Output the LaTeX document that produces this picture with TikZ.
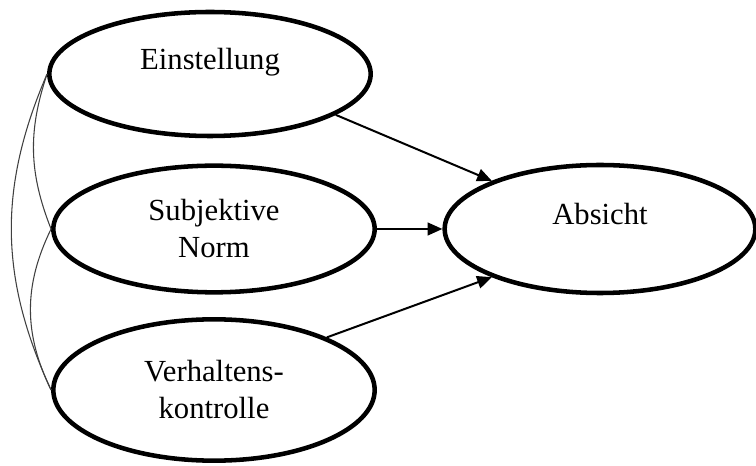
\documentclass[tikz,border=0pt]{standalone}
\usepackage{fontspec}
\setmainfont{Liberation Serif}
\usetikzlibrary{arrows.meta,shapes.geometric}

\begin{document}
\begin{tikzpicture}[x=0.75pt,y=0.75pt,
		bubble/.style={ellipse,draw,line width=3.4pt,minimum width=241pt,align=center,font=\fontsize{23}{27.75}\selectfont},
		pfeil/.style={line width=1.5pt,-{Triangle[length=11pt,width=9.5pt]}},
		korr/.style={line width=0.8pt,black!75}]
		\useasboundingbox (0,0) rectangle (756,-466);
		\node[bubble,minimum height=93pt,text depth=22pt] (ein) at (210,-74) {Einstellung};
		\node[bubble,minimum height=95pt] (subj) at (214,-229) {Subjektive\\Norm};
		\node[bubble,minimum height=106pt] (verh) at (214,-390) {Verhaltens-\\kontrolle};
		\node[bubble,minimum width=233pt,minimum height=96pt,text depth=22pt] (abs) at (600,-229) {Absicht};
		\draw[pfeil] (ein.-18) -- (abs.156);
		\draw[pfeil] (subj.east) -- (abs.west);
		\draw[pfeil] (verh.25) -- (abs.204);
		\draw[korr] (ein.west) to[bend right=20] (subj.west);
		\draw[korr] (ein.west) to[bend right=24] (verh.west);
		\draw[korr] (subj.west) to[bend right=26] (verh.west);
	\end{tikzpicture}
\end{document}
